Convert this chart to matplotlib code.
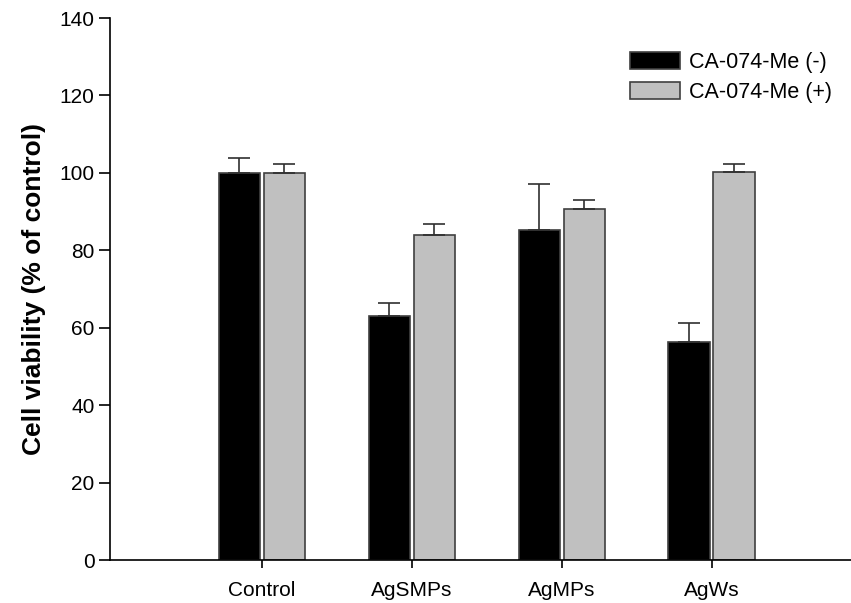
import numpy as np
import matplotlib
matplotlib.use("Agg")
import matplotlib.pyplot as plt

plt.rcParams['font.family'] = ['Liberation Sans', 'DejaVu Sans']

# data
groups = ["Control", "AgSMPs", "AgMPs", "AgWs"]
minus_vals = [100.0, 62.9, 85.2, 56.3]
minus_err = [3.8, 3.5, 11.8, 4.9]
plus_vals = [100.0, 83.9, 90.6, 100.2]
plus_err = [2.3, 2.9, 2.4, 2.2]
series_names = ["CA-074-Me (-)", "CA-074-Me (+)"]

fig = plt.figure(figsize=(8.51, 6.03), dpi=100)
ax = fig.add_axes([110 / 851, 43 / 603, 741 / 851, 542 / 603])

x = np.arange(1, len(groups) + 1)
w = 0.275
off = 0.15
edge = "#404040"
err_kw = dict(ecolor="#303030", elinewidth=1.2, capsize=8, capthick=1.2)

ax.bar(x - off, minus_vals, w, color="black", edgecolor=edge, linewidth=1.2,
       yerr=[np.zeros(4), minus_err], error_kw=err_kw, label=series_names[0], zorder=2)
ax.bar(x + off, plus_vals, w, color="#c0c0c0", edgecolor=edge, linewidth=1.2,
       yerr=[np.zeros(4), plus_err], error_kw=err_kw, label=series_names[1], zorder=2)

ax.set_xlim(-0.013, 4.93)
ax.set_ylim(0, 140)
ax.set_yticks(range(0, 141, 20))
ax.set_xticks(x)
ax.set_xticklabels(groups)

for s in ["top", "right"]:
    ax.spines[s].set_visible(False)
for s in ["left", "bottom"]:
    ax.spines[s].set_linewidth(1.2)
    ax.spines[s].set_color("black")

ax.tick_params(axis="y", direction="out", length=8, width=1.2, labelsize=15, pad=3)
ax.tick_params(axis="x", direction="out", length=6, width=1.2, labelsize=15, pad=9)

ax.set_ylabel("Cell viability (% of control)", fontsize=19, fontweight="bold", labelpad=10)

ax.legend(loc="upper left", bbox_to_anchor=(0.702, 0.937), frameon=False, fontsize=15.5,
          borderpad=0, borderaxespad=0,
          handlelength=2.3, handleheight=0.8, handletextpad=0.45, labelspacing=0.42)

fig.savefig("out.png", dpi=100)
